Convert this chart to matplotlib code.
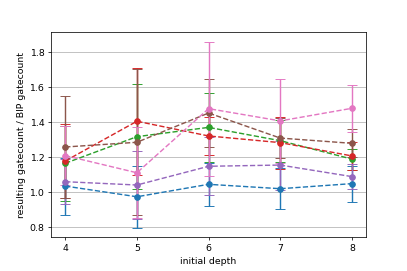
import numpy as np
import matplotlib.pyplot as plt

depths = [4, 5, 6, 7, 8]

blue = [1.036, 0.975, 1.046, 1.021, 1.050]
blue_err = [0.163, 0.177, 0.122, 0.118, 0.103]
green = [1.166, 1.318, 1.371, 1.295, 1.190]
green_err = [0.215, 0.300, 0.195, 0.120, 0.060]
red = [1.179, 1.406, 1.322, 1.284, 1.208]
red_err = [0.210, 0.306, 0.110, 0.148, 0.080]
purple = [1.061, 1.042, 1.149, 1.156, 1.090]
purple_err = [0.130, 0.196, 0.165, 0.140, 0.070]
brown = [1.259, 1.286, 1.453, 1.310, 1.280]
brown_err = [0.290, 0.417, 0.196, 0.115, 0.080]
pink = [1.210, 1.112, 1.478, 1.408, 1.480]
pink_err = [0.170, 0.260, 0.383, 0.240, 0.135]

series = [
    (blue, blue_err, 'tab:blue'),
    (green, green_err, 'tab:green'),
    (red, red_err, 'tab:red'),
    (purple, purple_err, 'tab:purple'),
    (brown, brown_err, 'tab:brown'),
    (pink, pink_err, 'tab:pink'),
]

# original was a default 6x4 figure saved at low dpi
fig, ax = plt.subplots(figsize=(6, 4), dpi=407 / 6)
fig.subplots_adjust(bottom=0.125)

for vals, errs, col in series:
    ax.errorbar(depths, vals, yerr=errs, fmt='o--', color=col, capsize=5)

ax.set_xticks(depths)
ax.grid(axis='y')
ax.set_axisbelow(True)
ax.set_xlabel('initial depth')
ax.set_ylabel('resulting gatecount / BIP gatecount')

plt.savefig('out.png')
